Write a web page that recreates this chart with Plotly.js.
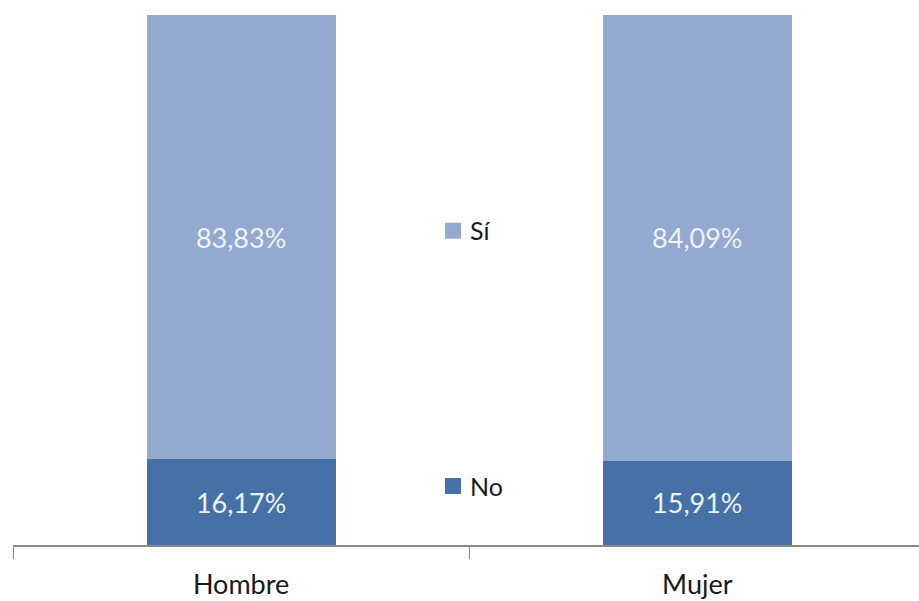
<!DOCTYPE html>
<html>
<head>
<meta charset="utf-8">
<script src="https://cdn.plot.ly/plotly-3.0.1.min.js"></script>
<style>html,body{margin:0;padding:0;overflow:hidden;background:#fff}</style>
</head>
<body>
<div id="chart" style="width:919px;height:601px"></div>
<script>
const categories = ["Hombre", "Mujer"];
const seriesNames = ["No", "Sí"];
const noValues = [16.17, 15.91];
const siValues = [83.83, 84.09];

const labelFont = {family: "Lato, 'Open Sans', sans-serif", size: 27, color: "#eef2f9"};

const traces = [
  {
    type: "bar", name: seriesNames[0], x: categories, y: noValues,
    marker: {color: "#4671a6"},
    texttemplate: "%{y:.2f}%", textposition: "inside", insidetextanchor: "middle",
    textfont: labelFont, hoverinfo: "none", legend: "legend2"
  },
  {
    type: "bar", name: seriesNames[1], x: categories, y: siValues,
    marker: {color: "#94a9cf"},
    texttemplate: "%{y:.2f}%", textposition: "inside", insidetextanchor: "middle",
    textfont: labelFont, hoverinfo: "none", legend: "legend"
  }
];

const legendFont = {family: "Lato, 'Open Sans', sans-serif", size: 25, color: "#1a1a1a"};

const layout = {
  width: 919, height: 601,
  margin: {l: 13, r: 0, t: 15, b: 56},
  barmode: "stack",
  bargap: 0.586,
  separators: ",.",
  paper_bgcolor: "#ffffff", plot_bgcolor: "#ffffff",
  font: {family: "Lato, 'Open Sans', sans-serif", color: "#1a1a1a"},
  xaxis: {
    type: "category",
    range: [-0.5, 1.486],
    showline: true, linecolor: "#888888", linewidth: 1.5,
    ticks: "outside", tickson: "boundaries", ticklen: 12, tickcolor: "#888888", tickwidth: 1,
    ticklabelstandoff: 15,
    tickfont: {family: "Lato, 'Open Sans', sans-serif", size: 27, color: "#1a1a1a"},
    showgrid: false, zeroline: false, fixedrange: true
  },
  yaxis: {
    range: [0, 100], visible: false, showgrid: false, zeroline: false, fixedrange: true
  },
  showlegend: true,
  legend: {
    x: 0.4603, y: 0.5925, xanchor: "left", yanchor: "middle",
    font: legendFont, bgcolor: "rgba(0,0,0,0)", itemclick: false
  },
  legend2: {
    x: 0.4603, y: 0.111, xanchor: "left", yanchor: "middle",
    font: legendFont, bgcolor: "rgba(0,0,0,0)", itemclick: false
  }
};

Plotly.newPlot("chart", traces, layout, {staticPlot: true, displayModeBar: false}).then(function () {
  // enlarge legend swatches to match the reference's bigger squares
  document.querySelectorAll("#chart .legendpoints path").forEach(function (p) {
    p.setAttribute("d", "M11,8H-5V-8H11Z");
  });
});
</script>
</body>
</html>
